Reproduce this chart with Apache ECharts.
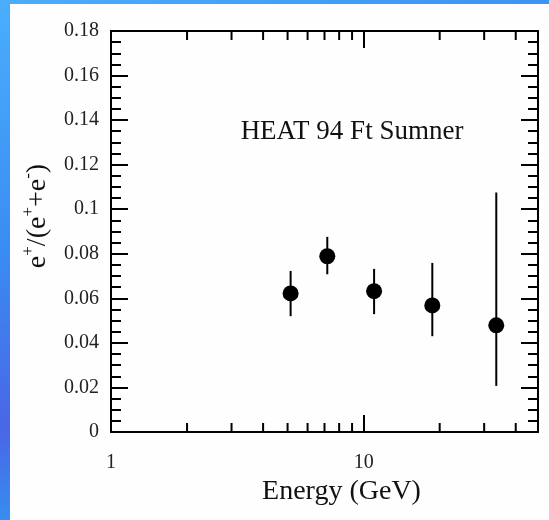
<!DOCTYPE html>
<html>
<head>
<meta charset="utf-8">
<script src="https://cdn.jsdelivr.net/npm/echarts@6/dist/echarts.min.js"></script>
<style>
  html, body { margin:0; padding:0; width:549px; height:520px; overflow:hidden; }
  body { background: linear-gradient(160deg, #4aaefc 0%, #3a8cf2 35%, #4a66e6 60%, #2aa6f6 80%, #3166e2 100%); position:relative; }
  #panel { position:absolute; left:10px; top:4px; width:539px; height:516px; background:#fefefe; }
  #chart { position:absolute; left:0; top:0; width:549px; height:520px; }
</style>
</head>
<body>
<div id="panel"></div>
<div id="chart"></div>
<script>
// Data (HEAT 94, Ft Sumner)
const energy   = [5.14, 7.18, 11.0, 18.7, 33.5];
const ratio    = [0.0622, 0.0789, 0.0632, 0.0568, 0.0479];
const errLow   = [0.0520, 0.0708, 0.0529, 0.0430, 0.0207];
const errHigh  = [0.0723, 0.0876, 0.0732, 0.0759, 0.1075];
const xMinorTicks = [2, 3, 4, 5, 6, 7, 8, 9, 20, 30, 40];
const xLabelValues = [1, 10];
const xRange = [1, 49];
const yRange = [0, 0.18];
const yStep = 0.02;

const FONT = '"Liberation Serif", "DejaVu Serif", serif';
const chart = echarts.init(document.getElementById('chart'), null, {renderer:'canvas'});

const lineStyle = {color:'#000', width:2};
function xAxisBase(pos) {
  return {
    type:'log', logBase:10, min:xRange[0], max:xRange[1], position:pos,
    axisLine:{show:true, onZero:false, lineStyle},
    axisTick:{show:true, inside:true, length:17, lineStyle},
    minorTick:{show:false},
    splitLine:{show:false},
    axisLabel:{
      show: pos === 'bottom', margin:21, fontSize:20, fontFamily:FONT, color:'#222',
      formatter: v => xLabelValues.some(t => Math.abs(t - v) < 1e-6) ? String(Math.round(v)) : ''
    }
  };
}
function yAxisBase(pos) {
  return {
    type:'value', min:yRange[0], max:yRange[1], interval:yStep, position:pos,
    axisLine:{show:true, onZero:false, lineStyle},
    axisTick:{show:true, inside:true, length:17, lineStyle},
    minorTick:{show:true, splitNumber:4, length:10, lineStyle},
    splitLine:{show:false}, minorSplitLine:{show:false},
    axisLabel:{show: pos === 'left', margin:12, fontSize:20, fontFamily:FONT, color:'#222'}
  };
}

const xb = xAxisBase('bottom');
xb.name = 'Energy (GeV)';
xb.nameLocation = 'middle';
xb.nameGap = 46;
xb.nameTextStyle = {fontSize:28, fontFamily:FONT, color:'#111', padding:[0, 0, 0, 34]};

const option = {
  animation:false,
  backgroundColor:'transparent',
  grid:{left:111, top:31, right:11, bottom:88},
  xAxis:[xb, xAxisBase('top')],
  yAxis:[yAxisBase('left'), yAxisBase('right')],
  graphic:[
    {type:'text', x:352, y:132, style:{text:'HEAT 94 Ft Sumner', font:'27px ' + FONT, fill:'#111', textAlign:'center', textVerticalAlign:'middle'}},
    {type:'text', x:36, y:216, rotation:Math.PI/2,
     style:{
       text:'{b|e}{s|+}{b|/(e}{s|+}{b|+e}{s|-}{b|)}',
       align:'center', verticalAlign:'middle', fill:'#111',
       rich:{
         b:{fontSize:28, fontFamily:FONT, lineHeight:32, verticalAlign:'bottom', fill:'#111'},
         s:{fontSize:17, fontFamily:FONT, lineHeight:32, verticalAlign:'top', fill:'#111'}
       }
     }}
  ],
  series:[
    {
      type:'custom', xAxisIndex:0, yAxisIndex:0, silent:true,
      data: xMinorTicks.map(v => [v]),
      renderItem: (params, api) => {
        const v = api.value(0);
        const b = api.coord([v, yRange[0]]);
        const t = api.coord([v, yRange[1]]);
        return {type:'group', children:[
          {type:'line', shape:{x1:b[0], y1:b[1], x2:b[0], y2:b[1]-9}, style:{stroke:'#000', lineWidth:2}},
          {type:'line', shape:{x1:t[0], y1:t[1], x2:t[0], y2:t[1]+9}, style:{stroke:'#000', lineWidth:2}}
        ]};
      }
    },
    {
      type:'custom', xAxisIndex:0, yAxisIndex:0, silent:true,
      data: energy.map((e, i) => [e, errLow[i], errHigh[i]]),
      renderItem: (params, api) => {
        const lo = api.coord([api.value(0), api.value(1)]);
        const hi = api.coord([api.value(0), api.value(2)]);
        return {type:'line', shape:{x1:lo[0], y1:lo[1], x2:hi[0], y2:hi[1]}, style:{stroke:'#000', lineWidth:2}};
      }
    },
    {
      type:'scatter', xAxisIndex:0, yAxisIndex:0, silent:true,
      symbol:'circle', symbolSize:16,
      itemStyle:{color:'#000', opacity:1},
      data: energy.map((e, i) => [e, ratio[i]])
    }
  ]
};
chart.setOption(option);
</script>
</body>
</html>
